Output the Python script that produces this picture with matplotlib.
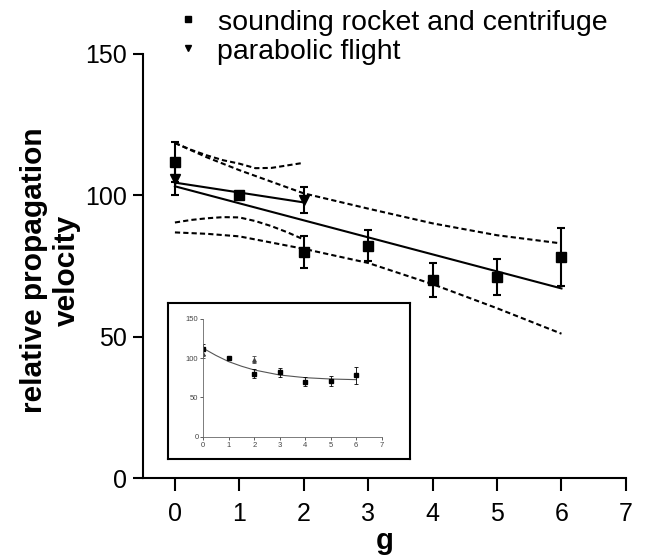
import matplotlib
matplotlib.use("Agg")
import matplotlib.pyplot as plt
from matplotlib.lines import Line2D

plt.rcParams["font.family"] = ["Liberation Sans", "DejaVu Sans"]

# sounding rocket and centrifuge (squares)
sq_x = [0, 1, 2, 3, 4, 5, 6]
sq_y = [111.6, 100.0, 80.0, 82.1, 70.0, 71.1, 78.0]
sq_err = [7.0, 0.0, 5.7, 5.4, 5.9, 6.3, 10.3]

# parabolic flight (triangles)
tri_x = [0, 2]
tri_y = [105.7, 98.2]
tri_err = [5.8, 4.6]

# linear fits
fit_sq_x = [0, 6]
fit_sq_y = [103.1, 67.0]
fit_tri_x = [0, 2]
fit_tri_y = [104.4, 97.4]

# confidence bands
band_x = [0, 0.5, 1, 2, 3, 4, 5, 6]
band_hi = [118.4, 113.3, 108.8, 100.6, 95.2, 90.0, 85.8, 82.9]
band_lo = [86.8, 86.3, 85.4, 81.0, 76.0, 68.5, 60.0, 51.0]
sband_x = [0, 0.25, 0.5, 0.75, 1, 1.25, 1.5, 1.75, 2]
sband_hi = [118.4, 116.0, 114.0, 112.3, 111.1, 109.5, 109.6, 110.5, 111.4]
sband_lo = [90.3, 91.2, 91.8, 92.2, 92.1, 90.8, 89.0, 86.8, 84.3]

# inset: exponential fit
inset_fit_x = [0, 0.5, 1, 1.5, 2, 3, 4, 5, 6]
inset_fit_y = [112.6, 103.5, 95.6, 89.8, 85.0, 78.6, 75.2, 73.5, 72.7]

xticks = [0, 1, 2, 3, 4, 5, 6, 7]
yticks = [0, 50, 100, 150]
legend_labels = ["sounding rocket and centrifuge", "parabolic flight"]

fig = plt.figure(figsize=(6.46, 5.57), dpi=100)
ax = fig.add_axes([0.2209, 0.1418, 0.748, 0.762])

dash = (0, (2.5, 1.5))
ax.plot(band_x, band_hi, color="black", lw=1.5, linestyle=dash)
ax.plot(band_x, band_lo, color="black", lw=1.5, linestyle=dash)
ax.plot(sband_x, sband_hi, color="black", lw=1.5, linestyle=dash)
ax.plot(sband_x, sband_lo, color="black", lw=1.5, linestyle=dash)
ax.plot(fit_sq_x, fit_sq_y, color="black", lw=1.5)
ax.plot(fit_tri_x, fit_tri_y, color="black", lw=1.5)

ax.errorbar(sq_x, sq_y, yerr=sq_err, fmt="s", color="black", ms=6.5,
            elinewidth=1.5, capsize=3.2, capthick=1.5)
ax.errorbar(tri_x, tri_y, yerr=tri_err, fmt="v", color="black", ms=6.5,
            elinewidth=1.5, capsize=3.2, capthick=1.5)

ax.set_xlim(-0.5, 7)
ax.set_ylim(0, 150)
ax.set_xticks(xticks)
ax.set_yticks(yticks)
ax.spines["top"].set_visible(False)
ax.spines["right"].set_visible(False)
ax.spines["left"].set_linewidth(1.5)
ax.spines["bottom"].set_linewidth(1.5)
ax.tick_params(axis="x", length=9.5, width=1.5, labelsize=18, pad=8)
ax.tick_params(axis="y", length=7.5, width=1.5, labelsize=18, pad=4)
ax.set_xlabel("g", fontsize=21, fontweight="bold", labelpad=0.5)
ax.set_ylabel("relative propagation\nvelocity", fontsize=21.5, fontweight="bold",
              linespacing=1.2)
ax.yaxis.set_label_coords(-0.128, 0.49)

# legend, placed by hand above the axes
fig.add_artist(Line2D([188 / 646], [1 - 19 / 557], transform=fig.transFigure,
                      marker="s", ls="", color="black", ms=5))
fig.add_artist(Line2D([188 / 646], [1 - 48 / 557], transform=fig.transFigure,
                      marker="v", ls="", color="black", ms=5))
fig.text(218 / 646, 1 - 30 / 557, legend_labels[0], fontsize=20.5, va="baseline")
fig.text(217 / 646, 1 - 59 / 557, legend_labels[1], fontsize=20.5, va="baseline")

# inset frame
box = fig.add_axes([0.2605, 0.176, 0.3746, 0.2795])
box.set_xticks([])
box.set_yticks([])
for s in box.spines.values():
    s.set_linewidth(1.5)

ins = fig.add_axes([0.3147, 0.216, 0.2762, 0.2113])
ins.plot(inset_fit_x, inset_fit_y, color="#555555", lw=0.8)
ins.errorbar(sq_x, sq_y, yerr=sq_err, fmt="s", color="black", ms=2.5,
             elinewidth=0.6, capsize=1.5, capthick=0.6)
ins.errorbar(tri_x, tri_y, yerr=tri_err, fmt="^", color="#444444", ms=2.5,
             elinewidth=0.6, capsize=1.5, capthick=0.6)
ins.set_xlim(0, 7)
ins.set_ylim(0, 150)
ins.set_xticks(xticks)
ins.set_yticks(yticks)
ins.spines["top"].set_visible(False)
ins.spines["right"].set_visible(False)
for s in ["left", "bottom"]:
    ins.spines[s].set_linewidth(0.6)
    ins.spines[s].set_color("#666666")
ins.tick_params(length=2, width=0.6, labelsize=5.5, pad=1.5, colors="#444444")

fig.savefig("out.png", dpi=100)
